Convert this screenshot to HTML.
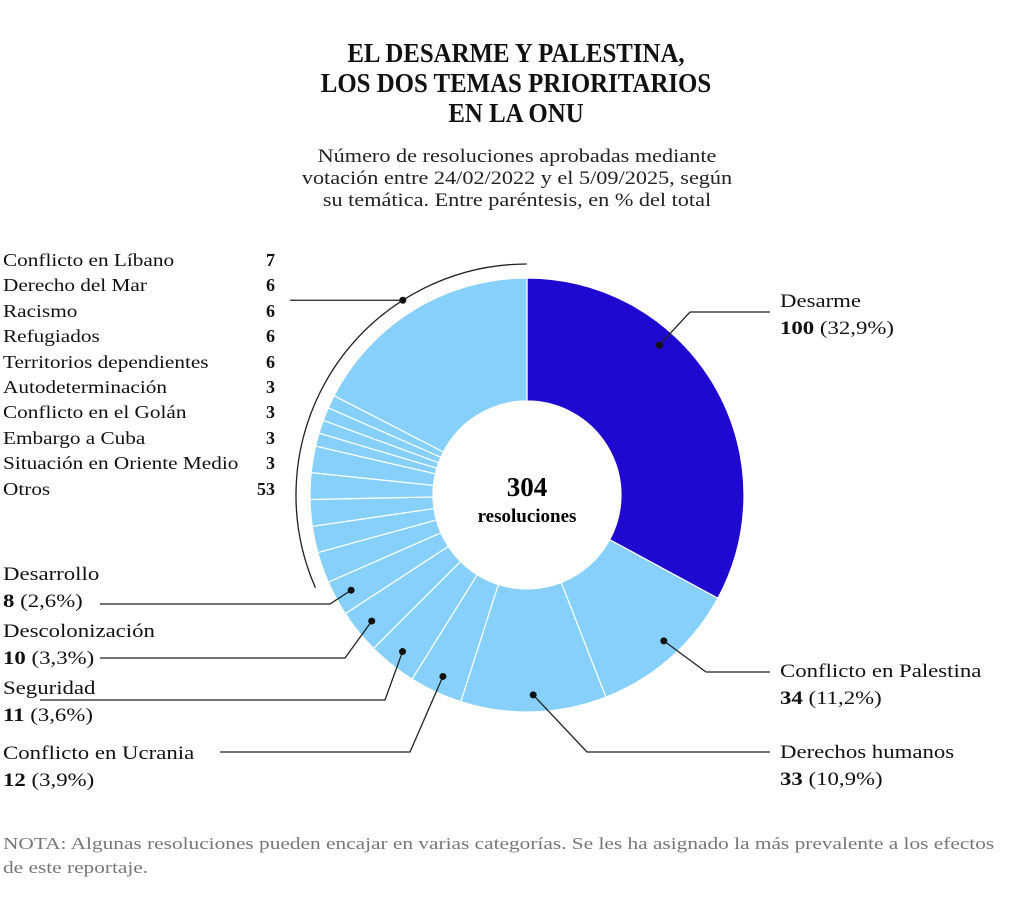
<!DOCTYPE html>
<html><head><meta charset="utf-8"><style>
body{margin:0;background:#fff;width:1024px;height:897px;overflow:hidden;font-family:"Liberation Serif",serif;color:#111}
.t{position:absolute;white-space:nowrap;transform-origin:0 0}
.w{display:inline-block;transform-origin:0 0}
</style></head><body>
<div class="t" style="left:0;width:1032px;top:38px;text-align:center;font-weight:bold;font-size:27px;line-height:30px;transform:scaleX(0.92);transform-origin:516px 0">EL DESARME Y PALESTINA,<br>LOS DOS TEMAS PRIORITARIOS<br>EN LA ONU</div>
<div class="t" style="left:0;width:1034px;top:146px;text-align:center;font-size:19px;line-height:22px;color:#222;transform:scaleX(1.17);transform-origin:517px 0">Número de resoluciones aprobadas mediante<br>votación entre 24/02/2022 y el 5/09/2025, según<br>su temática. Entre paréntesis, en % del total</div>
<svg width="1024" height="897" style="position:absolute;left:0;top:0">
<g id="slices"></g>
<g id="annot" stroke="#222" stroke-width="1.3" fill="none"></g>
<text x="527" y="496" text-anchor="middle" font-size="27" font-weight="bold" font-family="Liberation Serif">304</text>
<text x="527" y="522" text-anchor="middle" font-size="19" font-weight="bold" font-family="Liberation Serif">resoluciones</text>
</svg>
<div id="list" style="position:absolute;left:3px;top:248px;width:272px;font-size:18px;line-height:25.4px"></div>
<div class="t" style="left:780px;top:288px;font-size:19px;line-height:27px;transform:scaleX(1.2)">Desarme<br><b>100</b> (32,9%)</div>
<div class="t" style="left:780px;top:658px;font-size:19px;line-height:27px;transform:scaleX(1.2)">Conflicto en Palestina<br><b>34</b> (11,2%)</div>
<div class="t" style="left:780px;top:739px;font-size:19px;line-height:27px;transform:scaleX(1.2)">Derechos humanos<br><b>33</b> (10,9%)</div>
<div class="t" style="left:3px;top:561px;font-size:19px;line-height:27px;transform:scaleX(1.2)">Desarrollo<br><b>8</b> (2,6%)</div>
<div class="t" style="left:3px;top:618px;font-size:19px;line-height:27px;transform:scaleX(1.2)">Descolonización<br><b>10</b> (3,3%)</div>
<div class="t" style="left:3px;top:675px;font-size:19px;line-height:27px;transform:scaleX(1.2)">Seguridad<br><b>11</b> (3,6%)</div>
<div class="t" style="left:3px;top:740px;font-size:19px;line-height:27px;transform:scaleX(1.2)">Conflicto en Ucrania<br><b>12</b> (3,9%)</div>
<div class="t" style="left:3px;top:832px;font-size:17px;line-height:24px;color:#777;transform:scaleX(1.255)">NOTA: Algunas resoluciones pueden encajar en varias categorías. Se les ha asignado la más prevalente a los efectos<br>de este reportaje.</div>
<script>
const categories=["Desarme","Conflicto en Palestina","Derechos humanos","Conflicto en Ucrania","Seguridad","Descolonización","Desarrollo","Conflicto en Líbano","Derecho del Mar","Racismo","Refugiados","Territorios dependientes","Autodeterminación","Conflicto en el Golán","Embargo a Cuba","Situación en Oriente Medio","Otros"];
const values=[100,34,33,12,11,10,8,7,6,6,6,6,3,3,3,3,53];
const listCats=["Conflicto en Líbano","Derecho del Mar","Racismo","Refugiados","Territorios dependientes","Autodeterminación","Conflicto en el Golán","Embargo a Cuba","Situación en Oriente Medio","Otros"];
const listVals=[7,6,6,6,6,3,3,3,3,53];
const NS="http://www.w3.org/2000/svg",cx=527,cy=495,R=217,r=94;
const total=values.reduce((a,b)=>a+b,0);
function ang(v){return v/total*2*Math.PI;}
function pt(a,rad){return [cx+rad*Math.sin(a),cy-rad*Math.cos(a)];}
const g=document.getElementById('slices');let cum=0;const mids=[];
values.forEach((v,i)=>{const a0=ang(cum),a1=ang(cum+v);cum+=v;mids.push((a0+a1)/2);
const l=a1-a0>Math.PI?1:0;const p0=pt(a0,R),p1=pt(a1,R),q1=pt(a1,r),q0=pt(a0,r);
const p=document.createElementNS(NS,'path');
p.setAttribute('d',`M${p0}A${R},${R} 0 ${l} 1 ${p1}L${q1}A${r},${r} 0 ${l} 0 ${q0}Z`);
p.setAttribute('fill',i==0?'#1f08cf':'#87d0fb');p.setAttribute('stroke','#fff');p.setAttribute('stroke-width','1.2');


g.appendChild(p);});
const an=document.getElementById('annot');
function add(tag,attrs){const e=document.createElementNS(NS,tag);for(const k in attrs)e.setAttribute(k,attrs[k]);an.appendChild(e);return e;}
const leaders=[[0,-0.31,[690,312],770],[1,-0.03,[706,672],770],[2,0,[587,752],770],[3,0,[410,752],220],[4,0,[385,700],40],[5,0,[345,658],100],[6,0,[330,604],100]];
leaders.forEach(([i,off,e,ex])=>{const d=pt(mids[i]+off,200);
const pl=add('polyline',{points:`${d} ${e} ${ex},${e[1]}`});


const c=add('circle',{cx:d[0],cy:d[1],r:3.5,fill:'#111',stroke:'none'});

});
let before=values.slice(0,7).reduce((a,b)=>a+b,0);
const A0=ang(before),B=231,s=pt(A0,B),e2=pt(2*Math.PI-0.001,B);
const arc=add('path',{d:`M${s}A${B},${B} 0 0 1 ${e2}`});


const dm=pt(mids[16]-0.02,B);
const bl=add('line',{x1:dm[0],y1:dm[1],x2:290,y2:dm[1]});


const bd=add('circle',{cx:dm[0],cy:dm[1],r:3.5,fill:'#111',stroke:'none'});


const list=document.getElementById('list');
listCats.forEach((c,i)=>{const d=document.createElement('div');d.style.display='flex';d.style.justifyContent='space-between';
d.innerHTML=`<span class="w" style="transform:scaleX(1.18)">${c}</span><b>${listVals[i]}</b>`;


list.appendChild(d);});
</script>
</body></html>
